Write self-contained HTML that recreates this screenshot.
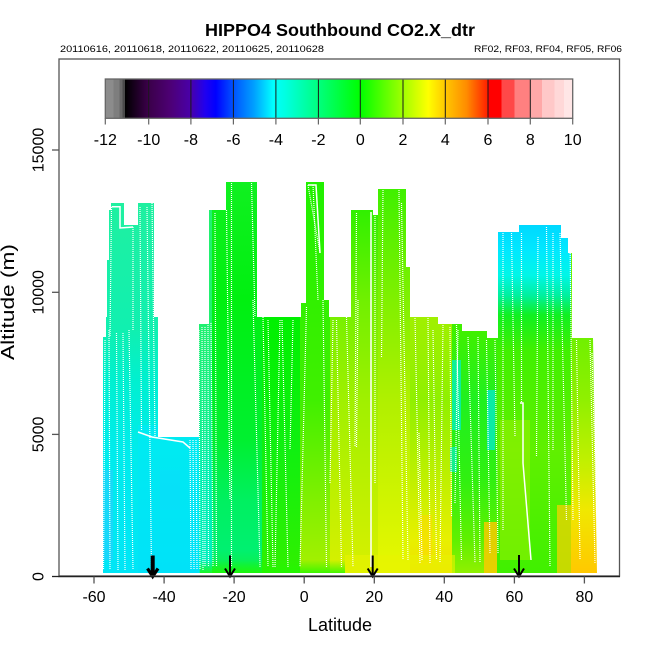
<!DOCTYPE html>
<html>
<head>
<meta charset="utf-8">
<style>
  html,body{margin:0;padding:0;background:#fff;}
  svg{display:block;}
  text{font-family:"Liberation Sans", Arial, sans-serif;fill:#000;}
</style>
</head>
<body>
<svg width="650" height="650" viewBox="0 0 650 650" xmlns="http://www.w3.org/2000/svg">
  <defs>
    <clipPath id="dc">
      <polygon points="103,573 103,337 106,337 106,317 107,317 107,260 109,260 109,210 111,210 111,203 124,203 124,225 138,225 138,203 154,203 154,317 158,317 158,437 199,437 199,324 209,324 209,210 226,210 226,182 257,182 257,317 301,317 301,303 306,303 306,182 324,182 324,300 329,300 329,317 351,317 351,210 373,210 373,215 378,215 378,189 406,189 406,267 410,267 410,317 438,317 438,324 462,324 462,331 487,331 487,338 498,338 498,232 519,232 519,225 561,225 561,238 568,238 568,253 572,253 572,338 593,338 595,450 597,573"/>
    </clipPath>
    <linearGradient id="cb" x1="0" y1="0" x2="1" y2="0">
      <stop offset="0" stop-color="#8c8c8c"/>
      <stop offset="0.01727" stop-color="#8c8c8c"/>
      <stop offset="0.01727" stop-color="#7e7e7e"/>
      <stop offset="0.03" stop-color="#7e7e7e"/>
      <stop offset="0.03" stop-color="#686868"/>
      <stop offset="0.03727" stop-color="#686868"/>
      <stop offset="0.03727" stop-color="#4a4a4a"/>
      <stop offset="0.04227" stop-color="#4a4a4a"/>
      <stop offset="0.04227" stop-color="#000000"/>
      <stop offset="0.0909" stop-color="#3a0048"/>
      <stop offset="0.13636" stop-color="#4c0072"/>
      <stop offset="0.1818" stop-color="#4a00a8"/>
      <stop offset="0.2136" stop-color="#2000f0"/>
      <stop offset="0.2364" stop-color="#0000ff"/>
      <stop offset="0.2727" stop-color="#0050ff"/>
      <stop offset="0.3182" stop-color="#00a0ff"/>
      <stop offset="0.3591" stop-color="#00ffff"/>
      <stop offset="0.3864" stop-color="#00ffe0"/>
      <stop offset="0.4545" stop-color="#00ff80"/>
      <stop offset="0.5" stop-color="#00ff40"/>
      <stop offset="0.5455" stop-color="#00ff00"/>
      <stop offset="0.5909" stop-color="#50ff00"/>
      <stop offset="0.6364" stop-color="#a0ff00"/>
      <stop offset="0.6909" stop-color="#ffff00"/>
      <stop offset="0.7273" stop-color="#ffc800"/>
      <stop offset="0.7727" stop-color="#ff8c00"/>
      <stop offset="0.8182" stop-color="#ff2000"/>
      <stop offset="0.8182" stop-color="#ff0000"/>
      <stop offset="0.8477" stop-color="#ff0000"/>
      <stop offset="0.8477" stop-color="#ff4848"/>
      <stop offset="0.8759" stop-color="#ff4848"/>
      <stop offset="0.8759" stop-color="#ff8080"/>
      <stop offset="0.9091" stop-color="#ff8080"/>
      <stop offset="0.9091" stop-color="#ffa8a8"/>
      <stop offset="0.9341" stop-color="#ffa8a8"/>
      <stop offset="0.9341" stop-color="#ffc8c8"/>
      <stop offset="0.9614" stop-color="#ffc8c8"/>
      <stop offset="0.9614" stop-color="#ffd8d8"/>
      <stop offset="0.9818" stop-color="#ffd8d8"/>
      <stop offset="0.9818" stop-color="#ffe6e6"/>
      <stop offset="1" stop-color="#ffe6e6"/>
    </linearGradient>
    <linearGradient id="gA" gradientUnits="userSpaceOnUse" x1="0" y1="180" x2="0" y2="573">
      <stop offset="0.051" stop-color="#20f0a0"/>
      <stop offset="0.382" stop-color="#10f0b0"/>
      <stop offset="0.509" stop-color="#00f0d0"/>
      <stop offset="0.687" stop-color="#00ecec"/>
      <stop offset="1" stop-color="#00e6f6"/>
    </linearGradient>
    <linearGradient id="gB" gradientUnits="userSpaceOnUse" x1="0" y1="180" x2="0" y2="573">
      <stop offset="0.6" stop-color="#00ecf0"/>
      <stop offset="1" stop-color="#00e2f8"/>
    </linearGradient>
    <linearGradient id="gC" gradientUnits="userSpaceOnUse" x1="0" y1="180" x2="0" y2="573">
      <stop offset="0.366" stop-color="#20f070"/>
      <stop offset="0.636" stop-color="#10f090"/>
      <stop offset="0.738" stop-color="#00f0b0"/>
      <stop offset="1" stop-color="#00f0c0"/>
    </linearGradient>
    <linearGradient id="gD" gradientUnits="userSpaceOnUse" x1="0" y1="180" x2="0" y2="573">
      <stop offset="0.005" stop-color="#10f020"/>
      <stop offset="0.305" stop-color="#00f010"/>
      <stop offset="0.662" stop-color="#00f030"/>
      <stop offset="0.814" stop-color="#00f060"/>
      <stop offset="0.94" stop-color="#00f070"/>
      <stop offset="1" stop-color="#10f040"/>
    </linearGradient>
    <linearGradient id="gE" gradientUnits="userSpaceOnUse" x1="0" y1="180" x2="0" y2="573">
      <stop offset="0.005" stop-color="#10f000"/>
      <stop offset="0.349" stop-color="#00f000"/>
      <stop offset="0.687" stop-color="#10f010"/>
      <stop offset="1" stop-color="#30f000"/>
    </linearGradient>
    <linearGradient id="gF" gradientUnits="userSpaceOnUse" x1="0" y1="180" x2="0" y2="573">
      <stop offset="0.005" stop-color="#20f000"/>
      <stop offset="0.56" stop-color="#40f000"/>
      <stop offset="0.814" stop-color="#80f000"/>
      <stop offset="1" stop-color="#a8f000"/>
    </linearGradient>
    <linearGradient id="gG" gradientUnits="userSpaceOnUse" x1="0" y1="180" x2="0" y2="573">
      <stop offset="0.076" stop-color="#30f000"/>
      <stop offset="0.305" stop-color="#70f000"/>
      <stop offset="0.56" stop-color="#a0f000"/>
      <stop offset="0.814" stop-color="#c0f000"/>
      <stop offset="1" stop-color="#d8f000"/>
    </linearGradient>
    <linearGradient id="gH" gradientUnits="userSpaceOnUse" x1="0" y1="180" x2="0" y2="573">
      <stop offset="0.023" stop-color="#40f000"/>
      <stop offset="0.305" stop-color="#80f000"/>
      <stop offset="0.56" stop-color="#b0f000"/>
      <stop offset="0.814" stop-color="#d0f400"/>
      <stop offset="1" stop-color="#e8f800"/>
    </linearGradient>
    <linearGradient id="gI" gradientUnits="userSpaceOnUse" x1="0" y1="180" x2="0" y2="573">
      <stop offset="0.349" stop-color="#a0f000"/>
      <stop offset="0.56" stop-color="#90f000"/>
      <stop offset="0.763" stop-color="#c0f000"/>
      <stop offset="0.916" stop-color="#e8f000"/>
      <stop offset="1" stop-color="#f0e000"/>
    </linearGradient>
    <linearGradient id="gJ" gradientUnits="userSpaceOnUse" x1="0" y1="180" x2="0" y2="573">
      <stop offset="0.382" stop-color="#40f000"/>
      <stop offset="0.56" stop-color="#20f020"/>
      <stop offset="0.763" stop-color="#30f010"/>
      <stop offset="0.916" stop-color="#60f000"/>
      <stop offset="1" stop-color="#90f000"/>
    </linearGradient>
    <linearGradient id="gK" gradientUnits="userSpaceOnUse" x1="0" y1="180" x2="0" y2="573">
      <stop offset="0.115" stop-color="#00d8ff"/>
      <stop offset="0.178" stop-color="#00e8ff"/>
      <stop offset="0.242" stop-color="#00f6e8"/>
      <stop offset="0.293" stop-color="#00f0a0"/>
      <stop offset="0.344" stop-color="#10f020"/>
      <stop offset="0.433" stop-color="#40f000"/>
      <stop offset="0.687" stop-color="#60f000"/>
      <stop offset="1" stop-color="#40f000"/>
    </linearGradient>
    <linearGradient id="gL" gradientUnits="userSpaceOnUse" x1="0" y1="180" x2="0" y2="573">
      <stop offset="0.402" stop-color="#70f000"/>
      <stop offset="0.56" stop-color="#90f000"/>
      <stop offset="0.712" stop-color="#c0f000"/>
      <stop offset="0.84" stop-color="#f0e800"/>
      <stop offset="1" stop-color="#ffc800"/>
    </linearGradient>
    <linearGradient id="gBot" x1="0" y1="0" x2="0" y2="1">
      <stop offset="0" stop-color="#20f800" stop-opacity="0"/>
      <stop offset="1" stop-color="#20f800" stop-opacity="0.8"/>
    </linearGradient>
  </defs>

  <rect x="0" y="0" width="650" height="650" fill="#fff"/>

  <text x="340" y="36" font-size="17.5" font-weight="bold" text-anchor="middle" textLength="270" lengthAdjust="spacingAndGlyphs">HIPPO4 Southbound CO2.X_dtr</text>
  <text x="60" y="52" font-size="9.5" textLength="264" lengthAdjust="spacingAndGlyphs">20110616, 20110618, 20110622, 20110625, 20110628</text>
  <text x="622" y="52" font-size="9.5" text-anchor="end" textLength="148" lengthAdjust="spacingAndGlyphs">RF02, RF03, RF04, RF05, RF06</text>

  <g clip-path="url(#dc)">
    <rect x="100" y="180" width="58" height="395" fill="url(#gA)"/>
    <rect x="138" y="425" width="61" height="150" fill="url(#gB)"/>
    <rect x="199" y="180" width="13" height="395" fill="url(#gC)"/>
    <rect x="212" y="180" width="50" height="395" fill="url(#gD)"/>
    <rect x="262" y="180" width="38" height="395" fill="url(#gE)"/>
    <rect x="300" y="180" width="30" height="395" fill="url(#gF)"/>
    <rect x="330" y="180" width="48" height="395" fill="url(#gG)"/>
    <rect x="378" y="180" width="32" height="395" fill="url(#gH)"/>
    <rect x="410" y="180" width="42" height="395" fill="url(#gI)"/>
    <rect x="452" y="180" width="45" height="395" fill="url(#gJ)"/>
    <rect x="497" y="180" width="74" height="395" fill="url(#gK)"/>
    <rect x="571" y="180" width="30" height="395" fill="url(#gL)"/>
    <rect x="103" y="470" width="10" height="90" fill="#30c8ff" opacity="0.5"/>
    <rect x="160" y="470" width="20" height="40" fill="#10d8ff" opacity="0.4"/>
    <rect x="452" y="360" width="9" height="70" fill="#00f0d0" opacity="0.7"/>
    <rect x="450" y="447" width="7" height="25" fill="#00f0e0" opacity="0.6"/>
    <rect x="487" y="390" width="8" height="60" fill="#00e8e0" opacity="0.7"/>
    <rect x="484" y="522" width="13" height="51" fill="#ffc800" opacity="0.8"/>
    <rect x="500" y="420" width="30" height="140" fill="#a0f000" opacity="0.5"/>
    <rect x="557" y="505" width="14" height="68" fill="#ffd000" opacity="0.7"/>
    <rect x="420" y="515" width="12" height="50" fill="#ffd800" opacity="0.5"/>
    <rect x="200" y="560" width="145" height="13" fill="url(#gBot)"/>
    <rect x="345" y="555" width="110" height="18" fill="#e8f400" opacity="0.6"/>
  </g>

  <g clip-path="url(#dc)" stroke="#fff" stroke-width="1.2" stroke-dasharray="1 1" fill="none">
    <line x1="105" y1="340" x2="103.5" y2="570"/>
    <line x1="109" y1="330" x2="110" y2="570"/>
    <line x1="111.5" y1="207" x2="110" y2="337"/>
    <line x1="116.5" y1="333" x2="118" y2="570"/>
    <line x1="123" y1="333" x2="125" y2="570"/>
    <line x1="129" y1="330" x2="133" y2="570"/>
    <line x1="133" y1="227" x2="133" y2="330"/>
    <line x1="140" y1="207" x2="141.5" y2="430"/>
    <line x1="147" y1="207" x2="151.5" y2="570"/>
    <line x1="152" y1="203" x2="155" y2="437"/>
    <line x1="190" y1="440" x2="191" y2="570"/>
    <line x1="193" y1="440" x2="194" y2="570"/>
    <line x1="196" y1="440" x2="197" y2="570"/>
    <line x1="199" y1="330" x2="200" y2="570"/>
    <line x1="202" y1="327" x2="203" y2="570"/>
    <line x1="205" y1="327" x2="205" y2="567"/>
    <line x1="208" y1="323" x2="208.5" y2="567"/>
    <line x1="211" y1="323" x2="213" y2="567"/>
    <line x1="215" y1="213" x2="216.5" y2="567"/>
    <line x1="226.5" y1="210" x2="230" y2="500"/>
    <line x1="231.5" y1="183" x2="231.5" y2="567"/>
    <line x1="251.5" y1="183" x2="255" y2="317"/>
    <line x1="253" y1="300" x2="260" y2="567"/>
    <line x1="263" y1="317" x2="268" y2="567"/>
    <line x1="268" y1="320" x2="273" y2="567"/>
    <line x1="280" y1="320" x2="275" y2="567"/>
    <line x1="282" y1="320" x2="288" y2="567"/>
    <line x1="293" y1="320" x2="290" y2="450"/>
    <line x1="306.5" y1="307" x2="300" y2="567"/>
    <line x1="308" y1="185" x2="320" y2="253"/>
    <line x1="313" y1="185" x2="318" y2="300"/>
    <line x1="323" y1="300" x2="326.5" y2="567"/>
    <line x1="333" y1="320" x2="330" y2="483"/>
    <line x1="336.5" y1="320" x2="341.5" y2="567"/>
    <line x1="346.5" y1="317" x2="353" y2="567"/>
    <line x1="356.5" y1="213" x2="355" y2="447"/>
    <line x1="358" y1="300" x2="356.5" y2="447"/>
    <line x1="375" y1="210" x2="375" y2="483"/>
    <line x1="383" y1="190" x2="381.5" y2="357"/>
    <line x1="399" y1="190" x2="403" y2="560"/>
    <line x1="401.5" y1="203" x2="408" y2="560"/>
    <line x1="415" y1="318" x2="420" y2="563"/>
    <line x1="419" y1="433" x2="422" y2="560"/>
    <line x1="428" y1="318" x2="430" y2="563"/>
    <line x1="433" y1="330" x2="436.5" y2="560"/>
    <line x1="443" y1="325" x2="440" y2="563"/>
    <line x1="450" y1="327" x2="451.5" y2="517"/>
    <line x1="456.5" y1="325" x2="461.5" y2="560"/>
    <line x1="458" y1="330" x2="455" y2="503"/>
    <line x1="468" y1="337" x2="475" y2="563"/>
    <line x1="478" y1="337" x2="480" y2="563"/>
    <line x1="486.5" y1="340" x2="490" y2="553"/>
    <line x1="495" y1="340" x2="498" y2="553"/>
    <line x1="503" y1="233" x2="503" y2="530"/>
    <line x1="511.5" y1="233" x2="515" y2="437"/>
    <line x1="521.5" y1="233" x2="521.5" y2="403"/>
    <line x1="538" y1="237" x2="536.5" y2="457"/>
    <line x1="546.5" y1="227" x2="550" y2="567"/>
    <line x1="553" y1="233" x2="553" y2="450"/>
    <line x1="560" y1="233" x2="566.5" y2="520"/>
    <line x1="570" y1="237" x2="573" y2="520"/>
    <line x1="576.5" y1="340" x2="580" y2="560"/>
    <line x1="590" y1="340" x2="595" y2="563"/>
    <line x1="592" y1="353" x2="597" y2="537"/>
  </g>
  <g stroke="#fff" stroke-width="1.5" fill="none">
    <polyline points="111.7,206.7 120,206.7 120,228 133,227"/>
    <polyline points="308,185 316,185 320,253"/>
    <polyline points="138,432 152,437 183,442 190,448"/>
    <line x1="371" y1="212" x2="371" y2="567"/>
    <polyline points="520,403 523,403 523,463 531,560"/>
  </g>

  <g stroke="#000" fill="none" stroke-linecap="butt">
    <line x1="152.7" y1="555.5" x2="152.7" y2="574" stroke-width="4"/>
    <polyline points="147.5,568.5 152.7,576.5 158,568.5" stroke-width="3.2"/>
    <line x1="230" y1="555.5" x2="230" y2="575" stroke-width="2"/>
    <polyline points="225,568.5 230,576.5 235,568.5" stroke-width="2"/>
    <line x1="372.7" y1="555.5" x2="372.7" y2="575" stroke-width="2"/>
    <polyline points="367.7,568.5 372.7,576.5 377.7,568.5" stroke-width="2"/>
    <line x1="519" y1="555" x2="519" y2="575" stroke-width="2"/>
    <polyline points="514,568.5 519,576.5 524,568.5" stroke-width="2"/>
  </g>

  <rect x="105.3" y="79" width="467.4" height="39.3" fill="url(#cb)"/>
  <g stroke="#1a1a1a" stroke-width="1">
    <line x1="148.7" y1="79" x2="148.7" y2="118.3"/>
    <line x1="190.9" y1="79" x2="190.9" y2="118.3"/>
    <line x1="233.4" y1="79" x2="233.4" y2="118.3"/>
    <line x1="275.9" y1="79" x2="275.9" y2="118.3"/>
    <line x1="318.4" y1="79" x2="318.4" y2="118.3"/>
    <line x1="360.3" y1="79" x2="360.3" y2="118.3"/>
    <line x1="403.0" y1="79" x2="403.0" y2="118.3"/>
    <line x1="445.3" y1="79" x2="445.3" y2="118.3"/>
    <line x1="488.0" y1="79" x2="488.0" y2="118.3"/>
    <line x1="530.3" y1="79" x2="530.3" y2="118.3"/>
  </g>
  <rect x="105.3" y="79" width="467.4" height="39.3" fill="none" stroke="#666" stroke-width="1.3"/>
  <g stroke="#666" stroke-width="1.2">
    <line x1="105.3" y1="118.3" x2="105.3" y2="124.5"/>
    <line x1="148.7" y1="118.3" x2="148.7" y2="124.5"/>
    <line x1="190.9" y1="118.3" x2="190.9" y2="124.5"/>
    <line x1="233.4" y1="118.3" x2="233.4" y2="124.5"/>
    <line x1="275.9" y1="118.3" x2="275.9" y2="124.5"/>
    <line x1="318.4" y1="118.3" x2="318.4" y2="124.5"/>
    <line x1="360.3" y1="118.3" x2="360.3" y2="124.5"/>
    <line x1="403.0" y1="118.3" x2="403.0" y2="124.5"/>
    <line x1="445.3" y1="118.3" x2="445.3" y2="124.5"/>
    <line x1="488.0" y1="118.3" x2="488.0" y2="124.5"/>
    <line x1="530.3" y1="118.3" x2="530.3" y2="124.5"/>
    <line x1="572.7" y1="118.3" x2="572.7" y2="124.5"/>
  </g>
  <g font-size="16" text-anchor="middle">
    <text x="105.3" y="145">-12</text>
    <text x="148.7" y="145">-10</text>
    <text x="190.9" y="145">-8</text>
    <text x="233.4" y="145">-6</text>
    <text x="275.9" y="145">-4</text>
    <text x="318.4" y="145">-2</text>
    <text x="360.3" y="145">0</text>
    <text x="403.0" y="145">2</text>
    <text x="445.3" y="145">4</text>
    <text x="488.0" y="145">6</text>
    <text x="530.3" y="145">8</text>
    <text x="572.7" y="145">10</text>
  </g>

  <rect x="59" y="59" width="560.5" height="517" fill="none" stroke="#555" stroke-width="1.3"/>
  <line x1="58.5" y1="576.5" x2="620" y2="576.5" stroke="#222" stroke-width="1.6"/>

  <g stroke="#555" stroke-width="1.3">
    <line x1="52" y1="150" x2="59" y2="150"/>
    <line x1="52" y1="292.3" x2="59" y2="292.3"/>
    <line x1="52" y1="434.4" x2="59" y2="434.4"/>
    <line x1="52" y1="576.5" x2="59" y2="576.5" stroke="#222"/>
  </g>
  <g font-size="16" text-anchor="middle">
    <text transform="translate(43.5,150) rotate(-90)">15000</text>
    <text transform="translate(43.5,292.3) rotate(-90)">10000</text>
    <text transform="translate(43.5,434.4) rotate(-90)">5000</text>
    <text transform="translate(43.5,576.5) rotate(-90)">0</text>
  </g>
  <text transform="translate(14,302) rotate(-90)" font-size="18" text-anchor="middle" textLength="116" lengthAdjust="spacingAndGlyphs">Altitude (m)</text>

  <g stroke="#555" stroke-width="1.3">
    <line x1="94" y1="576.5" x2="94" y2="583.5"/>
    <line x1="164.1" y1="576.5" x2="164.1" y2="583.5"/>
    <line x1="234.1" y1="576.5" x2="234.1" y2="583.5"/>
    <line x1="304.2" y1="576.5" x2="304.2" y2="583.5"/>
    <line x1="374.3" y1="576.5" x2="374.3" y2="583.5"/>
    <line x1="444.3" y1="576.5" x2="444.3" y2="583.5"/>
    <line x1="514.4" y1="576.5" x2="514.4" y2="583.5"/>
    <line x1="584.4" y1="576.5" x2="584.4" y2="583.5"/>
  </g>
  <g font-size="16" text-anchor="middle">
    <text x="94" y="602">-60</text>
    <text x="164.1" y="602">-40</text>
    <text x="234.1" y="602">-20</text>
    <text x="304.2" y="602">0</text>
    <text x="374.3" y="602">20</text>
    <text x="444.3" y="602">40</text>
    <text x="514.4" y="602">60</text>
    <text x="584.4" y="602">80</text>
  </g>
  <text x="340" y="631" font-size="18" text-anchor="middle">Latitude</text>
</svg>
</body>
</html>
